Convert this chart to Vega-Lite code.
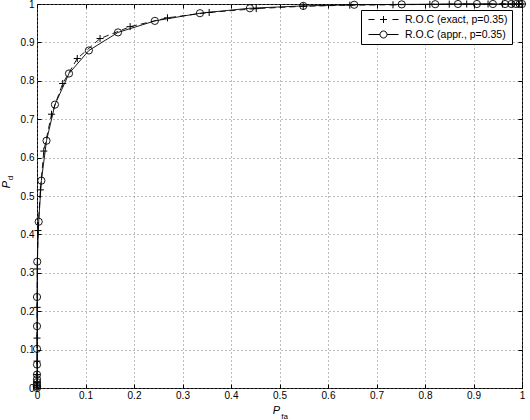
{
  "$schema": "https://vega.github.io/schema/vega-lite/v6.json",
  "width": 485,
  "height": 384,
  "autosize": {"type": "none"},
  "padding": {"left": 37, "top": 4, "right": 8, "bottom": 32},
  "background": "white",
  "config": {
    "font": "Liberation Sans",
    "view": {"stroke": "black", "strokeWidth": 1},
    "axis": {
      "labelFont": "Liberation Sans",
      "labelFontSize": 10,
      "labelColor": "black",
      "tickColor": "black",
      "titleColor": "black",
      "titleFont": "Liberation Sans",
      "titleFontWeight": "normal",
      "domain": false
    }
  },
  "data": {
    "values": [
      {"s": "exact", "pfa": 0, "pd": 0},
      {"s": "exact", "pfa": 0, "pd": 0.005},
      {"s": "exact", "pfa": 0, "pd": 0.015},
      {"s": "exact", "pfa": 0, "pd": 0.035},
      {"s": "exact", "pfa": 0, "pd": 0.07},
      {"s": "exact", "pfa": 0, "pd": 0.13},
      {"s": "exact", "pfa": 0.0003, "pd": 0.21},
      {"s": "exact", "pfa": 0.0008, "pd": 0.31},
      {"s": "exact", "pfa": 0.002, "pd": 0.41},
      {"s": "exact", "pfa": 0.007, "pd": 0.516},
      {"s": "exact", "pfa": 0.014, "pd": 0.617},
      {"s": "exact", "pfa": 0.03, "pd": 0.713},
      {"s": "exact", "pfa": 0.053, "pd": 0.793},
      {"s": "exact", "pfa": 0.083, "pd": 0.858},
      {"s": "exact", "pfa": 0.13, "pd": 0.91},
      {"s": "exact", "pfa": 0.192, "pd": 0.941},
      {"s": "exact", "pfa": 0.269, "pd": 0.964},
      {"s": "exact", "pfa": 0.355, "pd": 0.978},
      {"s": "exact", "pfa": 0.452, "pd": 0.988},
      {"s": "exact", "pfa": 0.549, "pd": 0.994},
      {"s": "exact", "pfa": 0.645, "pd": 0.997},
      {"s": "exact", "pfa": 0.734, "pd": 0.998},
      {"s": "exact", "pfa": 0.81, "pd": 0.999},
      {"s": "exact", "pfa": 0.85, "pd": 0.9995},
      {"s": "exact", "pfa": 0.886, "pd": 1},
      {"s": "exact", "pfa": 0.93, "pd": 1},
      {"s": "exact", "pfa": 0.96, "pd": 1},
      {"s": "exact", "pfa": 0.98, "pd": 1},
      {"s": "exact", "pfa": 0.993, "pd": 1},
      {"s": "exact", "pfa": 1, "pd": 1},
      {"s": "appr.", "pfa": 0, "pd": 0},
      {"s": "appr.", "pfa": 0, "pd": 0.004},
      {"s": "appr.", "pfa": 0, "pd": 0.009},
      {"s": "appr.", "pfa": 0, "pd": 0.015},
      {"s": "appr.", "pfa": 0, "pd": 0.023},
      {"s": "appr.", "pfa": 0, "pd": 0.035},
      {"s": "appr.", "pfa": 0, "pd": 0.061},
      {"s": "appr.", "pfa": 0, "pd": 0.102},
      {"s": "appr.", "pfa": 0, "pd": 0.161},
      {"s": "appr.", "pfa": 0, "pd": 0.237},
      {"s": "appr.", "pfa": 0.0005, "pd": 0.329},
      {"s": "appr.", "pfa": 0.0035, "pd": 0.433},
      {"s": "appr.", "pfa": 0.009, "pd": 0.54},
      {"s": "appr.", "pfa": 0.0196, "pd": 0.644},
      {"s": "appr.", "pfa": 0.037, "pd": 0.738},
      {"s": "appr.", "pfa": 0.066, "pd": 0.819},
      {"s": "appr.", "pfa": 0.107, "pd": 0.879},
      {"s": "appr.", "pfa": 0.167, "pd": 0.926},
      {"s": "appr.", "pfa": 0.243, "pd": 0.956},
      {"s": "appr.", "pfa": 0.336, "pd": 0.976},
      {"s": "appr.", "pfa": 0.439, "pd": 0.989},
      {"s": "appr.", "pfa": 0.549, "pd": 0.995},
      {"s": "appr.", "pfa": 0.654, "pd": 0.998},
      {"s": "appr.", "pfa": 0.752, "pd": 0.999},
      {"s": "appr.", "pfa": 0.821, "pd": 0.9995},
      {"s": "appr.", "pfa": 0.868, "pd": 1},
      {"s": "appr.", "pfa": 0.907, "pd": 1},
      {"s": "appr.", "pfa": 0.94, "pd": 1},
      {"s": "appr.", "pfa": 0.965, "pd": 1},
      {"s": "appr.", "pfa": 0.978, "pd": 1},
      {"s": "appr.", "pfa": 0.988, "pd": 1},
      {"s": "appr.", "pfa": 0.995, "pd": 1},
      {"s": "appr.", "pfa": 1, "pd": 1}
    ]
  },
  "resolve": {"axis": {"x": "independent", "y": "independent"}},
  "layer": [
    {
      "transform": [{"filter": "datum.s == 'exact'"}],
      "mark": {"type": "line", "strokeDash": [6, 4], "strokeWidth": 0.9, "color": "black", "clip": false},
      "encoding": {
        "x": {
          "field": "pfa", "type": "quantitative",
          "scale": {"domain": [0, 1], "nice": false, "zero": false},
          "axis": {
            "orient": "bottom",
            "values": [0, 0.1, 0.2, 0.3, 0.4, 0.5, 0.6, 0.7, 0.8, 0.9, 1],
            "format": "~g",
            "grid": true, "gridDash": [1, 3], "gridColor": "#7a7a7a", "gridWidth": 1,
            "ticks": true, "tickSize": -4,
            "labelPadding": 6, "labelFlush": false, "labelOverlap": false, "labelBound": false,
            "title": "P", "titleFontStyle": "italic", "titleFontSize": 11,
            "titleX": 239, "titleY": 25, "titleAlign": "center", "titleBaseline": "alphabetic", "titleAngle": 0
          }
        },
        "y": {
          "field": "pd", "type": "quantitative",
          "scale": {"domain": [0, 1], "nice": false, "zero": false},
          "axis": {
            "orient": "left",
            "values": [0, 0.1, 0.2, 0.3, 0.4, 0.5, 0.6, 0.7, 0.8, 0.9, 1],
            "format": "~g",
            "grid": true, "gridDash": [1, 3], "gridColor": "#7a7a7a", "gridWidth": 1,
            "ticks": true, "tickSize": -4,
            "labelPadding": 7, "labelFlush": false, "labelOverlap": false, "labelBound": false,
            "title": "P", "titleFontStyle": "italic", "titleFontSize": 11,
            "titleX": -28, "titleY": 180, "titleAlign": "center", "titleBaseline": "alphabetic", "titleAngle": 270
          }
        },
        "order": [{"field": "pfa", "type": "quantitative"}, {"field": "pd", "type": "quantitative"}]
      }
    },
    {
      "transform": [{"filter": "datum.s == 'appr.'"}],
      "mark": {"type": "line", "strokeWidth": 0.9, "color": "black", "clip": false},
      "encoding": {
        "x": {"field": "pfa", "type": "quantitative", "axis": null},
        "y": {"field": "pd", "type": "quantitative", "axis": null},
        "order": [{"field": "pfa", "type": "quantitative"}, {"field": "pd", "type": "quantitative"}]
      }
    },
    {
      "transform": [{"filter": "datum.s == 'exact'"}],
      "mark": {"type": "point", "shape": "M-1,0H1M0,-1V1", "size": 50, "filled": false, "color": "black", "strokeWidth": 1, "opacity": 1, "clip": false},
      "encoding": {
        "x": {
          "field": "pfa", "type": "quantitative",
          "axis": {
            "orient": "top", "values": [0, 0.1, 0.2, 0.3, 0.4, 0.5, 0.6, 0.7, 0.8, 0.9, 1],
            "labels": false, "grid": false, "ticks": true, "tickSize": -4, "title": null
          }
        },
        "y": {
          "field": "pd", "type": "quantitative",
          "axis": {
            "orient": "right", "values": [0, 0.1, 0.2, 0.3, 0.4, 0.5, 0.6, 0.7, 0.8, 0.9, 1],
            "labels": false, "grid": false, "ticks": true, "tickSize": -4, "title": null
          }
        }
      }
    },
    {
      "transform": [{"filter": "datum.s == 'appr.'"}],
      "mark": {"type": "point", "shape": "circle", "size": 52, "filled": false, "color": "black", "strokeWidth": 0.9, "opacity": 1, "clip": false},
      "encoding": {
        "x": {
          "field": "pfa", "type": "quantitative",
          "axis": {
            "orient": "bottom", "labels": false, "grid": false, "ticks": false,
            "title": "fa", "titleFontSize": 8, "titleFontStyle": "normal",
            "titleX": 247, "titleY": 30, "titleAlign": "center", "titleBaseline": "alphabetic", "titleAngle": 0
          }
        },
        "y": {
          "field": "pd", "type": "quantitative",
          "axis": {
            "orient": "left", "labels": false, "grid": false, "ticks": false,
            "title": "d", "titleFontSize": 8, "titleFontStyle": "normal",
            "titleX": -25, "titleY": 173.5, "titleAlign": "center", "titleBaseline": "alphabetic", "titleAngle": 270
          }
        }
      }
    },
    {
      "transform": [{"filter": "datum.pfa == 1"}],
      "mark": {"type": "point", "size": 100, "filled": false, "color": "black", "strokeWidth": 1, "opacity": 0, "clip": false},
      "encoding": {
        "x": {"field": "pfa", "type": "quantitative", "axis": null},
        "y": {"field": "pd", "type": "quantitative", "axis": null},
        "shape": {
          "field": "s", "type": "nominal",
          "scale": {
            "domain": ["exact", "appr."],
            "range": [
              "M-0.4,0H0.8M1.9,0H3.3M2.6,-0.7V0.7M4.4,0H5.6",
              "M-0.4,0H1.9M3.3,0H5.6M1.9,0A0.7,0.7 0 1,0 3.3,0A0.7,0.7 0 1,0 1.9,0"
            ]
          },
          "legend": {
            "orient": "none", "legendX": 324, "legendY": 6,
            "title": null, "direction": "vertical",
            "strokeColor": "black", "fillColor": "white", "padding": 4, "cornerRadius": 0,
            "symbolSize": 100, "symbolStrokeWidth": 1, "symbolOpacity": 1,
            "symbolStrokeColor": "black", "symbolFillColor": "transparent",
            "labelFont": "Liberation Sans", "labelFontSize": 10.5, "labelColor": "black",
            "labelOffset": 29, "rowPadding": 4,
            "labelExpr": "datum.value == 'exact' ? 'R.O.C (exact, p=0.35)\u00a0\u00a0' : 'R.O.C (appr., p=0.35)\u00a0\u00a0'"
          }
        }
      }
    }
  ]
}
